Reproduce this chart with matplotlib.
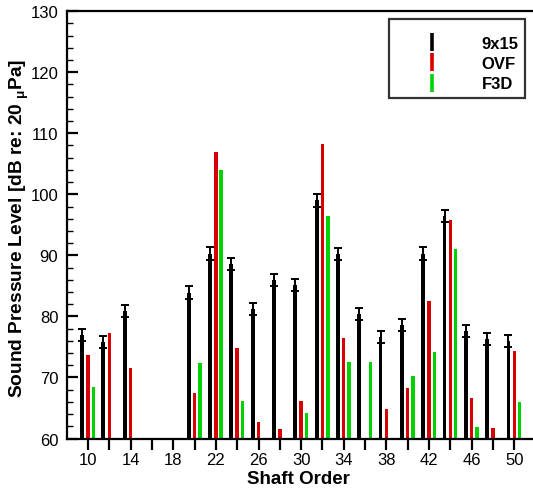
import numpy as np
import matplotlib

matplotlib.use("Agg")
import matplotlib.pyplot as plt
from matplotlib.lines import Line2D
from matplotlib.ticker import FixedLocator, MultipleLocator

nan = np.nan

# shaft orders and measured / predicted levels (dB)
shaft_order = np.arange(10, 52, 2)
spl_9x15 = [76.9, 75.8, 80.9, nan, nan, 83.9, 90.3, 88.6, 81.2, 85.9, 85.1,
            99.0, 90.2, 80.4, 76.6, 78.6, 90.3, 96.5, 77.6, 76.3, 76.0]
spl_ovf = [73.7, 77.2, 71.5, nan, nan, 67.5, 107.0, 74.8, 62.7, 61.5, 66.2,
           108.2, 76.4, nan, 64.9, 68.2, 82.5, 95.8, 66.6, 61.8, 74.3]
spl_f3d = [68.5, nan, nan, nan, nan, 72.4, 104.0, 66.2, nan, nan, 64.1,
           96.4, 72.5, 72.6, nan, 70.2, 74.1, 91.1, 61.9, nan, 65.9]
err_9x15 = 1.0

x_labels = ["10", "", "14", "", "18", "", "22", "", "26", "", "30", "",
            "34", "", "38", "", "42", "", "46", "", "50"]

BLACK = "black"
RED = "#d80000"
GREEN = "#00d200"

plt.rcParams["font.family"] = ["Liberation Sans", "DejaVu Sans"]

fig = plt.figure(figsize=(5.33, 4.89), dpi=100)
ax = fig.add_axes([0.125, 0.1012, 0.88, 0.874])

x = shaft_order.astype(float)
ax.bar(x - 0.55, spl_9x15, width=0.36, color=BLACK, zorder=2)
ax.errorbar(x - 0.55, spl_9x15, yerr=err_9x15, fmt="none", ecolor=BLACK,
            elinewidth=1.4, capsize=3, capthick=1.4, zorder=3)
ax.bar(x, spl_ovf, width=0.32, color=RED, zorder=2)
ax.bar(x + 0.5, spl_f3d, width=0.32, color=GREEN, zorder=2)

ax.set_xlim(8, 52)
ax.set_ylim(60, 130)

ax.xaxis.set_major_locator(FixedLocator(shaft_order))
ax.set_xticklabels(x_labels)
ax.yaxis.set_major_locator(MultipleLocator(10))
ax.yaxis.set_minor_locator(MultipleLocator(2))

ax.tick_params(axis="x", direction="out", length=8, width=1.6, pad=2,
               labelsize=12)
ax.tick_params(axis="y", which="major", direction="in", length=8, width=1.6,
               pad=6, labelsize=12)
ax.tick_params(axis="y", which="minor", direction="in", length=4.5, width=1.0)
ax.tick_params(top=False, right=False)

for side in ("left", "bottom", "top"):
    ax.spines[side].set_linewidth(1.6)
ax.spines["right"].set_visible(False)

ax.set_xlabel("Shaft Order", fontsize=13.5, fontweight="bold")
ax.set_ylabel(r"Sound Pressure Level [dB re: 20 $\mathregular{_{\mu}}$Pa]",
              fontsize=13.8, fontweight="bold")
ax.xaxis.set_label_coords(0.495, -0.073)
ax.yaxis.set_label_coords(-0.076, 0.495)

handles = [
    Line2D([], [], color=c, marker="|", linestyle="none", markersize=13,
           markeredgewidth=2.6)
    for c in (BLACK, RED, GREEN)
]
leg = ax.legend(handles, ["9x15", "OVF", "F3D"], loc="upper right",
                bbox_to_anchor=(525 / 533, 1 - 20 / 489),
                bbox_transform=fig.transFigure, frameon=True, fancybox=False,
                handlelength=4.4, handletextpad=0.8, borderpad=0.38,
                labelspacing=0.32, borderaxespad=0,
                title=" ", title_fontsize=4,
                prop={"weight": "bold", "size": 12})
leg.get_frame().set_edgecolor("black")
leg.get_frame().set_linewidth(1.6)

fig.savefig("out.png", dpi=100)
